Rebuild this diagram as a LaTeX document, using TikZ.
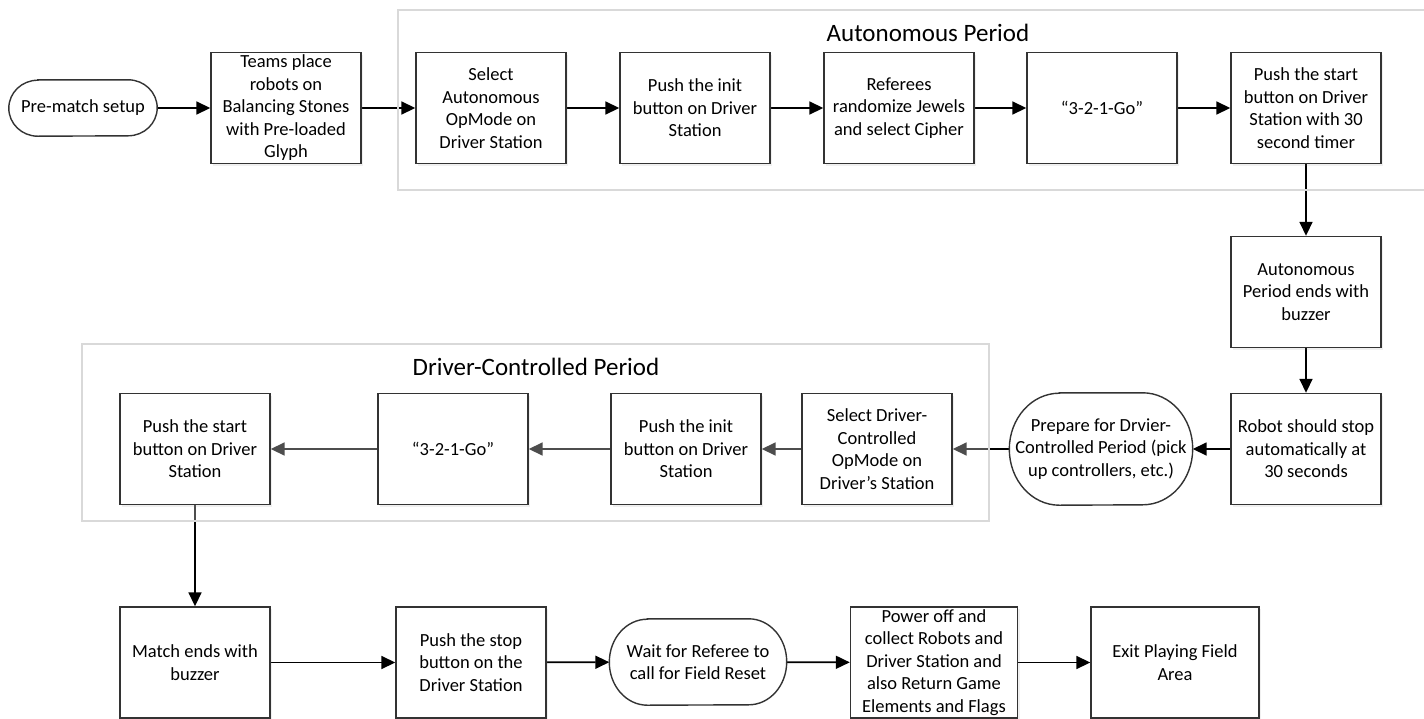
\documentclass[tikz,border=0pt]{standalone}
\usepackage{fontspec}
\setmainfont{Carlito}
\usetikzlibrary{arrows.meta,shadows}
\pgfdeclarelayer{bg}
\pgfdeclarelayer{mid}
\pgfsetlayers{bg,mid,main}
\tikzset{
  txt/.style={align=center, inner sep=0pt, font=\fontsize{18.5}{22.5}\selectfont},
  proc/.style={txt, draw=black!80, line width=1.4pt, fill=white,
    minimum width=150pt, minimum height=111pt,
    drop shadow={opacity=0.12, shadow xshift=2pt, shadow yshift=-2pt}},
  term/.style={txt, draw=none},
  termline/.style={draw=black!80, line width=1.4pt},
  flow/.style={line width=1.7pt, -{Triangle[length=14pt,width=13pt]}},
  grp/.style={draw=black!15, line width=1.6pt},
  grptitle/.style={font=\fontsize{25}{29}\selectfont, inner sep=0pt},
}
\begin{document}
\begin{tikzpicture}[x=1pt,y=-1pt]
\useasboundingbox (0,0) rectangle (1424,718);
% groups
\draw[grp] (1424,10) -- (398,10) -- (398,190) -- (1424,190);
\node[grptitle] (t1) at (928,33) {Autonomous Period};
% top row
\node[term, minimum width=148pt, minimum height=56pt] (pre) at (83,108) {Pre-match setup};
\node[proc] (teams) at (286,108) {Teams place\\robots on\\Balancing Stones\\with Pre-loaded\\Glyph};
\node[proc] (sa) at (491,108) {Select\\Autonomous\\OpMode on\\Driver Station};
\node[proc] (pi) at (695,108) {Push the init\\button on Driver\\Station};
\node[proc] (ref) at (899,108) {Referees\\randomize Jewels\\and select Cipher};
\node[proc] (go1) at (1102,108) {“3-2-1-Go”};
\node[proc] (ps) at (1306,108) {Push the start\\button on Driver\\Station with 30\\second timer};
\node[proc] (ae) at (1306,292) {Autonomous\\Period ends with\\buzzer};
\node[proc] (rs) at (1306,449) {Robot should stop\\automatically at\\30 seconds};
\node[term, minimum width=183pt, minimum height=112pt] (prep) at (1101,449) {Prepare for Drvier-\\Controlled Period (pick\\up controllers, etc.)};
% driver group
\node[grptitle] (t2) at (536,367) {Driver-Controlled Period};
\node[proc] (sd) at (877,449) {Select Driver-\\Controlled\\OpMode on\\Driver’s Station};
\node[proc] (pi2) at (686,449) {Push the init\\button on Driver\\Station};
\node[proc] (go2) at (453,449) {“3-2-1-Go”};
\node[proc] (ps2) at (195,449) {Push the start\\button on Driver\\Station};
% bottom row
\node[proc] (me) at (195,662.5) {Match ends with\\buzzer};
\node[proc] (pst) at (471,662.5) {Push the stop\\button on the\\Driver Station};
\node[term, minimum width=177pt, minimum height=86pt] (wait) at (698,662) {Wait for Referee to\\call for Field Reset};
\node[proc, minimum width=167pt] (po) at (934,662.5) {Power off and\\collect Robots and\\Driver Station and\\also Return Game\\Elements and Flags};
\node[proc, minimum width=168pt] (exit) at (1175,662.5) {Exit Playing Field\\Area};
% terminal outlines
\draw[termline] ([xshift=29pt]pre.north west) -- ([xshift=-29pt]pre.north east)
  arc[start angle=90,end angle=-90,x radius=29pt,y radius=28pt]
  -- ([xshift=29pt]pre.south west)
  arc[start angle=270,end angle=90,x radius=29pt,y radius=28pt] -- cycle;
\draw[termline] ([xshift=50pt]prep.north west) -- ([xshift=-50pt]prep.north east)
  arc[start angle=90,end angle=-90,x radius=50pt,y radius=56pt]
  -- ([xshift=50pt]prep.south west)
  arc[start angle=270,end angle=90,x radius=50pt,y radius=56pt] -- cycle;
\draw[termline] ([xshift=38pt]wait.north west) -- ([xshift=-38pt]wait.north east)
  arc[start angle=90,end angle=-90,x radius=38pt,y radius=43pt]
  -- ([xshift=38pt]wait.south west)
  arc[start angle=270,end angle=90,x radius=38pt,y radius=43pt] -- cycle;
% driver group box over arrows
\begin{pgfonlayer}{mid}
\fill[white, fill opacity=0.3] (82,344) rectangle (989,521);
\draw[grp] (82,344) rectangle (989,521);
\end{pgfonlayer}
% connectors
\begin{pgfonlayer}{bg}
\draw[flow] (pre) -- (teams);
\draw[flow] (teams) -- (sa);
\draw[flow] (sa) -- (pi);
\draw[flow] (pi) -- (ref);
\draw[flow] (ref) -- (go1);
\draw[flow] (go1) -- (ps);
\draw[flow] (ps) -- (ae);
\draw[flow] (ae) -- (rs);
\draw[flow] (rs) -- (prep);
\draw[flow] (prep) -- (sd);
\draw[flow] (sd) -- (pi2);
\draw[flow] (pi2) -- (go2);
\draw[flow] (go2) -- (ps2);
\draw[flow] (ps2) -- (me);
\draw[flow] (me) -- (pst);
\draw[flow] (pst) -- (wait);
\draw[flow] (wait) -- (po);
\draw[flow] (po) -- (exit);
\end{pgfonlayer}
\end{tikzpicture}
\end{document}
